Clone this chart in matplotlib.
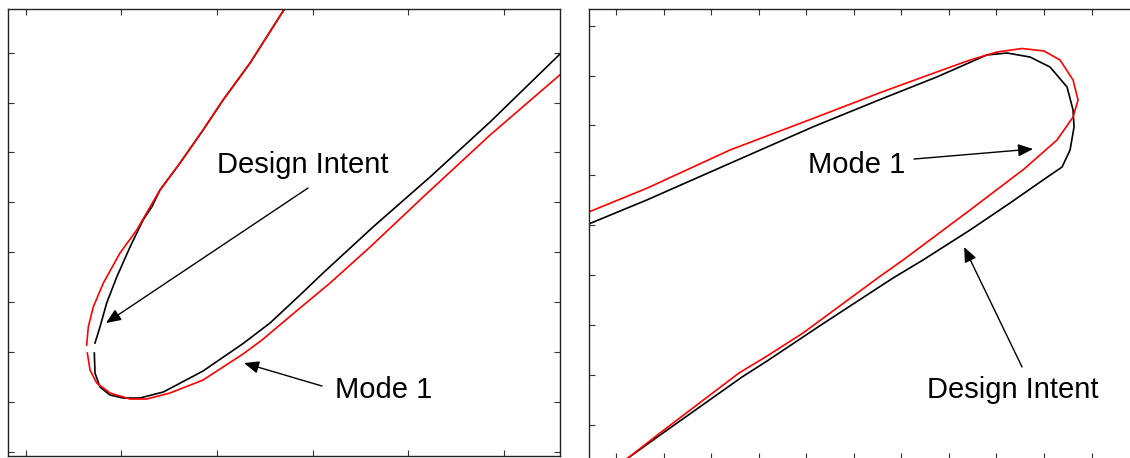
import numpy as np
import matplotlib.pyplot as plt

plt.rcParams['font.family'] = ['Liberation Sans', 'DejaVu Sans']

nan = np.nan

# left view: tip of the profile (x ticks every 10, y ticks every 10)
left_intent_x = [27.12, 23.46, 20.64, 18.55, 16.14, 14.05, 13.19, 12.28, 10.92, 9.53, 8.48, 7.78, 7.26,
                 nan,
                 7.19, 7.26, 7.78, 8.83, 10.22, 11.96, 14.40, 18.55, 22.73, 25.55, 28.68, 31.09, 36.31,
                 42.27, 48.54, 56.06]
left_intent_y = [88.97, 77.93, 70.51, 64.49, 57.87, 52.46, 49.05, 46.44, 41.02, 35.00, 29.79, 24.97, 21.77,
                 nan,
                 19.76, 15.75, 12.94, 11.33, 10.73, 10.73, 11.94, 16.15, 21.66, 25.78, 31.39, 35.81, 45.04,
                 55.07, 66.10, 80.14]
left_mode1_x = [27.12, 23.46, 20.64, 18.55, 16.14, 14.05, 13.01, 11.62, 9.87, 8.13, 7.08, 6.56, 6.39,
                nan,
                6.46, 6.74, 7.44, 8.83, 10.92, 12.66, 15.10, 18.55, 22.73, 24.71, 28.68, 31.82, 36.00,
                41.54, 48.54, 56.06]
left_mode1_y = [88.97, 77.93, 70.51, 64.49, 57.87, 52.46, 49.05, 44.43, 39.82, 33.80, 28.99, 24.97, 21.36,
                nan,
                19.76, 16.35, 13.74, 11.74, 10.53, 10.53, 11.74, 14.34, 19.56, 22.37, 28.79, 33.80, 41.02,
                51.05, 63.49, 75.93]

# right view: the loop
right_intent_x = [-6.52, 6.46, 23.97, 41.49, 55.52, 67.44, 77.96, 82.23, 87.07, 91.27, 94.85, 96.11, 96.32,
                  95.48, 93.80, 89.80, 82.86, 74.45, 64.56, 58.25, 43.11, 31.76, 26.50, 9.88, 2.52, 1.26]
right_intent_y = [39.94, 45.05, 52.41, 59.75, 65.20, 69.71, 74.13, 74.53, 73.72, 71.72, 67.71, 63.10, 59.69,
                  55.08, 51.67, 49.06, 44.45, 39.04, 33.02, 29.41, 19.99, 12.77, 9.56, -1.66, -6.68, -7.48]
right_mode1_x = [-6.52, 6.46, 23.97, 41.49, 55.52, 67.44, 74.45, 80.13, 85.38, 90.01, 93.38, 96.11, 97.16,
                 96.11, 92.74, 85.80, 74.45, 60.36, 55.31, 39.33, 31.76, 25.87, 9.25, 2.52, 1.26]
right_mode1_y = [42.35, 47.40, 55.08, 61.43, 66.57, 70.72, 73.12, 74.73, 75.43, 74.93, 73.12, 69.11, 65.10,
                 61.69, 57.08, 51.27, 43.05, 33.02, 29.61, 18.39, 13.77, 10.37, -1.66, -6.68, -7.48]

fig = plt.figure(figsize=(11.3, 4.58), dpi=100)
ax1 = fig.add_axes([0.00708, 0.00328, 0.4885, 0.977])
ax2 = fig.add_axes([0.521, -0.00218, 0.4879, 0.9825])

arrow = dict(arrowstyle='-|>,head_length=0.6,head_width=0.25', color='black', lw=1.0,
             mutation_scale=15, shrinkA=0, shrinkB=0)
fs = 21

# left panel
ax1.plot(left_intent_x, left_intent_y, color='black', lw=1.2)
ax1.plot(left_mode1_x, left_mode1_y, color='red', lw=1.2)
ax1.set_xlim(-1.83, 55.85)
ax1.set_ylim(-1.0, 88.77)
ax1.set_xticks(np.arange(0, 51, 10))
ax1.set_yticks(np.arange(0, 81, 10))
ax1.text(19.98, 55.81, 'Design Intent', fontsize=fs, ha='left', va='baseline')
ax1.annotate('', xy=(8.41, 25.78), xytext=(29.52, 52.86), arrowprops=arrow)
ax1.text(32.34, 10.67, 'Mode 1', fontsize=fs, ha='left', va='baseline')
ax1.annotate('', xy=(22.83, 17.75), xytext=(30.98, 13.14), arrowprops=arrow)

# right panel
ax2.plot(right_intent_x, right_intent_y, color='black', lw=1.2)
ax2.plot(right_mode1_x, right_mode1_y, color='red', lw=1.2)
ax2.set_xlim(-5.74, 110.2)
ax2.set_ylim(-6.88, 83.35)
ax2.set_xticks(np.arange(0, 101, 10))
ax2.set_yticks(np.arange(0, 81, 10))
ax2.text(40.29, 50.41, 'Mode 1', fontsize=fs, ha='left', va='baseline')
ax2.annotate('', xy=(87.70, 55.28), xytext=(62.67, 53.27), arrowprops=arrow)
ax2.text(65.41, 5.29, 'Design Intent', fontsize=fs, ha='left', va='baseline')
ax2.annotate('', xy=(73.19, 35.63), xytext=(85.38, 11.57), arrowprops=arrow)

for ax in (ax1, ax2):
    ax.tick_params(direction='in', top=True, right=True, length=4, width=0.8,
                   labelbottom=False, labelleft=False, color='#333333')
    for s in ax.spines.values():
        s.set_linewidth(1.0)
        s.set_color('#222222')

fig.savefig('out.png', dpi=100)
